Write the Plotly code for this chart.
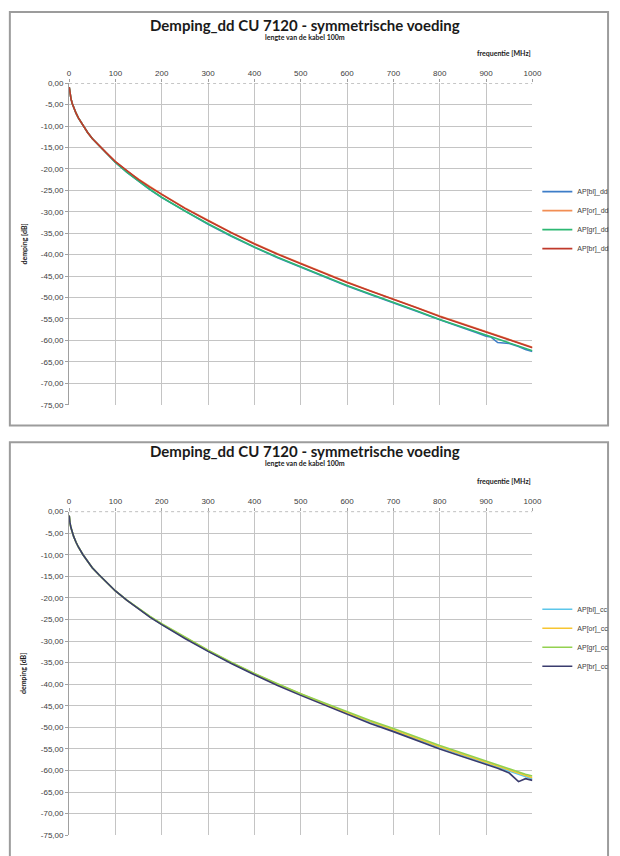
import plotly.graph_objects as go

# ---------------- data ----------------
freq = [0.3, 1, 2, 4, 7, 10, 15, 20, 30, 40, 50, 65, 80, 100, 125, 150, 175, 200, 250, 300,
        350, 400, 450, 500, 550, 600, 650, 700, 750, 800, 850, 880, 900, 910, 925, 950, 970, 985, 1000]

bl_dd = [-0.9, -1.8, -2.6, -3.6, -4.8, -5.7, -7.0, -8.1, -9.9, -11.5, -12.9, -14.6, -16.3, -18.5, -20.8,
         -22.9, -24.9, -26.7, -29.9, -32.9, -35.7, -38.3, -40.7, -42.9, -45.1, -47.3, -49.3, -51.2, -53.2,
         -55.2, -57.0, -58.2, -59.0, -59.2, -60.5, -60.7, -61.4, -62.1, -62.6]
or_dd = [-0.9, -1.8, -2.6, -3.6, -4.8, -5.7, -7.0, -8.1, -9.9, -11.5, -12.9, -14.6, -16.2, -18.3, -20.5,
         -22.4, -24.2, -25.9, -29.1, -32.0, -34.8, -37.4, -39.8, -42.0, -44.2, -46.4, -48.4, -50.3, -52.3,
         -54.3, -56.1, -57.2, -57.9, -58.3, -58.8, -59.7, -60.4, -61.0, -61.6]
gr_dd = [-0.9, -1.8, -2.6, -3.6, -4.8, -5.7, -7.0, -8.1, -9.9, -11.5, -12.9, -14.6, -16.3, -18.5, -20.8,
         -22.9, -24.8, -26.6, -29.8, -32.8, -35.6, -38.2, -40.6, -42.8, -45.0, -47.2, -49.2, -51.1, -53.1,
         -55.1, -56.9, -58.0, -58.8, -59.2, -59.7, -60.6, -61.3, -61.8, -62.4]
br_dd = [-0.9, -1.8, -2.6, -3.6, -4.8, -5.7, -7.0, -8.1, -9.9, -11.5, -12.9, -14.6, -16.2, -18.3, -20.5,
         -22.5, -24.3, -26.0, -29.2, -32.1, -34.9, -37.5, -39.9, -42.1, -44.3, -46.5, -48.5, -50.4, -52.4,
         -54.4, -56.2, -57.3, -58.0, -58.4, -58.9, -59.8, -60.5, -61.1, -61.7]

bl_cc = [-0.9, -1.9, -2.7, -3.7, -4.9, -5.8, -7.1, -8.2, -10.0, -11.6, -13.0, -14.7, -16.3, -18.4, -20.6,
         -22.6, -24.4, -26.2, -29.3, -32.3, -35.1, -37.7, -40.1, -42.4, -44.6, -46.8, -48.8, -50.8, -52.8,
         -54.7, -56.5, -57.6, -58.3, -58.7, -59.2, -60.2, -61.0, -61.5, -62.0]
or_cc = [-0.9, -1.9, -2.7, -3.7, -4.9, -5.8, -7.1, -8.2, -10.0, -11.6, -13.0, -14.7, -16.3, -18.4, -20.6,
         -22.6, -24.4, -26.1, -29.2, -32.2, -35.0, -37.6, -40.0, -42.3, -44.5, -46.6, -48.6, -50.6, -52.6,
         -54.5, -56.3, -57.4, -58.1, -58.5, -59.0, -59.9, -60.7, -61.2, -61.7]
gr_cc = [-0.9, -1.9, -2.7, -3.7, -4.9, -5.8, -7.1, -8.2, -10.0, -11.6, -13.0, -14.7, -16.3, -18.4, -20.5,
         -22.5, -24.3, -26.0, -29.1, -32.1, -34.9, -37.5, -39.9, -42.2, -44.3, -46.4, -48.4, -50.3, -52.3,
         -54.2, -56.0, -57.1, -57.8, -58.2, -58.7, -59.6, -60.3, -60.9, -61.3]
br_cc = [-0.9, -1.9, -2.7, -3.7, -4.9, -5.8, -7.1, -8.2, -10.0, -11.6, -13.0, -14.7, -16.3, -18.4, -20.6,
         -22.6, -24.5, -26.2, -29.4, -32.4, -35.2, -37.8, -40.3, -42.6, -44.8, -47.0, -49.1, -51.0, -53.0,
         -55.0, -56.8, -57.9, -58.6, -59.0, -59.5, -60.6, -62.6, -61.9, -62.3]

names_dd = ["AP[bl]_dd", "AP[or]_dd", "AP[gr]_dd", "AP[br]_dd"]
names_cc = ["AP[bl]_cc", "AP[or]_cc", "AP[gr]_cc", "AP[br]_cc"]
colors_dd = ["#3D7DC8", "#F28E54", "#2DB873", "#C0392B"]
colors_cc = ["#5CC6EA", "#F7C531", "#93D150", "#3A3C6E"]

x_ticks = [0, 100, 200, 300, 400, 500, 600, 700, 800, 900, 1000]
y_ticks = [0, -5, -10, -15, -20, -25, -30, -35, -40, -45, -50, -55, -60, -65, -70, -75]
y_ticktext = [f"{v:.2f}".replace(".", ",") for v in y_ticks]

title_text = "Demping_dd CU 7120 - symmetrische voeding"
subtitle_text = "lengte van de kabel 100m"
xlabel_text = "frequentie [MHz]"
ylabel_text = "demping [dB]"

# ---------------- layout helpers ----------------
W, H = 620, 856
def px(x):
    return x / W
def py(y):
    return 1 - y / H

fig = go.Figure()

for names, cols, series, xa, ya, lg in [
    (names_dd, colors_dd, [bl_dd, or_dd, gr_dd, br_dd], "x", "y", "legend"),
    (names_cc, colors_cc, [bl_cc, or_cc, gr_cc, br_cc], "x2", "y2", "legend2"),
]:
    for n, c, s in zip(names, cols, series):
        fig.add_trace(go.Scatter(x=freq, y=s, name=n, mode="lines",
                                 line=dict(color=c, width=1.6),
                                 xaxis=xa, yaxis=ya, legend=lg))

axis_font = dict(family="Liberation Sans, Arial", size=8, color="#404040")
grid_col = "#C4C4C4"

def xaxis_cfg(anchor):
    return dict(domain=[px(68.3), px(540)], anchor=anchor, side="top", range=[0, 1000],
                tickvals=x_ticks, ticks="outside", ticklen=3, tickcolor="#A0A0A0",
                showgrid=True, gridcolor=grid_col, gridwidth=1, zeroline=False,
                showline=False, tickfont=axis_font, fixedrange=True)

def yaxis_cfg(anchor, top, bottom):
    return dict(domain=[py(bottom), py(top)], anchor=anchor, range=[-75, 0],
                tickvals=y_ticks, ticktext=y_ticktext, ticks="outside", ticklen=3,
                tickcolor="#A0A0A0", showgrid=True, gridcolor=grid_col, gridwidth=1,
                zeroline=False, showline=True, linecolor="#A0A0A0", linewidth=1,
                tickfont=axis_font, fixedrange=True)

top1, bot1 = 80, 405
top2, bot2 = 513, 840

legend_font = dict(family="Liberation Sans, Arial", size=7, color="#404040")
fig.update_layout(
    width=W, height=H, margin=dict(l=0, r=0, t=0, b=0),
    paper_bgcolor="white", plot_bgcolor="white",
    xaxis=xaxis_cfg("y"), yaxis=yaxis_cfg("x", top1, bot1),
    xaxis2=xaxis_cfg("y2"), yaxis2=yaxis_cfg("x2", top2, bot2),
    legend=dict(x=px(545), y=py(175), xanchor="left", yanchor="top", font=legend_font,
                bgcolor="rgba(0,0,0,0)", itemwidth=30, tracegroupgap=0),
    legend2=dict(x=px(545), y=py(597), xanchor="left", yanchor="top", font=legend_font,
                 bgcolor="rgba(0,0,0,0)", itemwidth=30, tracegroupgap=0),
    showlegend=True,
)

shapes = []
# chart frames
shapes.append(dict(type="rect", xref="paper", yref="paper", x0=px(8), x1=px(617),
                   y0=py(426), y1=py(8), line=dict(color="#9C9C9C", width=2)))
shapes.append(dict(type="rect", xref="paper", yref="paper", x0=px(8), x1=px(617),
                   y0=py(870), y1=py(443), line=dict(color="#9C9C9C", width=2)))
# dashed horizontal axis line at 0
for xr, yr in [("x", "y"), ("x2", "y2")]:
    shapes.append(dict(type="line", xref=xr, yref=yr, x0=0, x1=1000, y0=0, y1=0,
                       line=dict(color="#8C8C8C", width=1, dash="dot")))
fig.update_layout(shapes=shapes)

ann = []
for (ty, sy, fy, yl) in [(21, 33, 50, (top1 + bot1) / 2), (452, 464, 482, (top2 + bot2) / 2)]:
    ann.append(dict(text=title_text, x=px(308), y=py(ty), xref="paper", yref="paper",
                    showarrow=False, xanchor="center", yanchor="middle",
                    font=dict(family="Lato, Open Sans", size=15, color="#1A1A1A", weight="bold")))
    ann.append(dict(text=subtitle_text, x=px(308), y=py(sy), xref="paper", yref="paper",
                    showarrow=False, xanchor="center", yanchor="middle",
                    font=dict(family="Lato, Open Sans", size=7, color="#1A1A1A", weight="bold")))
    ann.append(dict(text=xlabel_text, x=px(541), y=py(fy), xref="paper", yref="paper",
                    showarrow=False, xanchor="right", yanchor="middle",
                    font=dict(family="Lato, Open Sans", size=7, color="#1A1A1A", weight="bold")))
    ann.append(dict(text=ylabel_text, x=px(22), y=py(yl), xref="paper", yref="paper",
                    showarrow=False, xanchor="center", yanchor="middle", textangle=-90,
                    font=dict(family="Lato, Open Sans", size=7, color="#1A1A1A", weight="bold")))
fig.update_layout(annotations=ann)

fig.write_html("out.html", config={"displayModeBar": False},
               post_script="document.body.style.margin='0';document.body.style.overflow='hidden';")
